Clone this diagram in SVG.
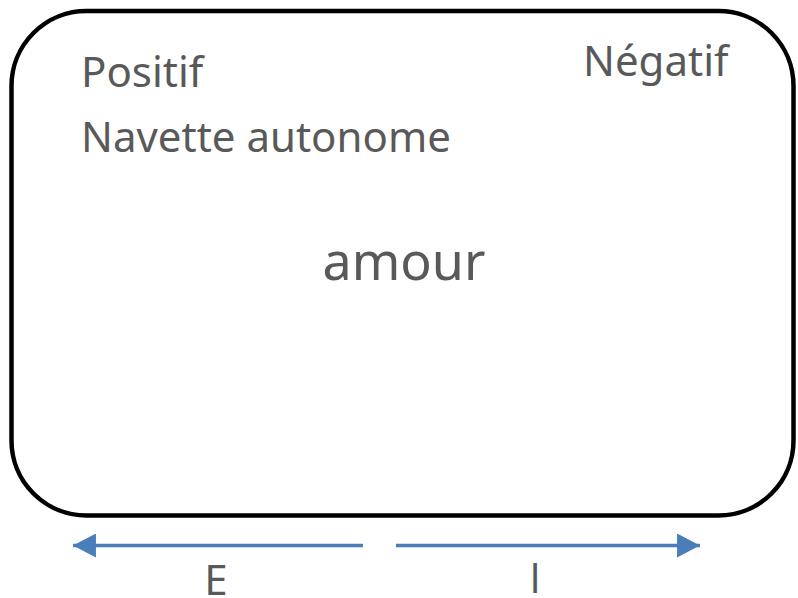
<svg xmlns="http://www.w3.org/2000/svg" width="798" height="598" viewBox="0 0 798 598">
<defs>
<style>
.t{font-family:"Noto Sans","Open Sans","Liberation Sans",sans-serif;fill:#595959;}
.c{stroke:#4a7ebb;stroke-width:3.5;fill:none;}
</style>
<marker id="ah" markerUnits="userSpaceOnUse" markerWidth="24" markerHeight="24" viewBox="0 0 21 22" refX="21" refY="11" orient="auto">
<path d="M0,0 L21,11 L0,22 Z" fill="#4a7ebb"/>
</marker>
</defs>
<rect width="798" height="598" fill="#ffffff"/>
<g id="box">
<rect x="11.5" y="11" width="782" height="504.5" rx="75" ry="75" fill="#ffffff" stroke="#000000" stroke-width="4.5"/>
<text class="t" x="81" y="87" font-size="42">Positif</text>
<text class="t" x="81" y="152" font-size="42">Navette autonome</text>
<text class="t" x="583" y="76" font-size="42">Négatif</text>
<text class="t" x="404" y="280" font-size="52" text-anchor="middle">amour</text>
</g>
<g id="connectors">
<line class="c" x1="363" y1="545.5" x2="73" y2="545.5" marker-end="url(#ah)"/>
<line class="c" x1="396" y1="545.5" x2="700" y2="545.5" marker-end="url(#ah)"/>
</g>
<g id="labels">
<text class="t" x="216" y="595" font-size="42" text-anchor="middle">E</text>
<text class="t" x="535" y="593" font-size="42" text-anchor="middle" style="font-family:'Open Sans','Liberation Sans',sans-serif">I</text>
</g>
</svg>
